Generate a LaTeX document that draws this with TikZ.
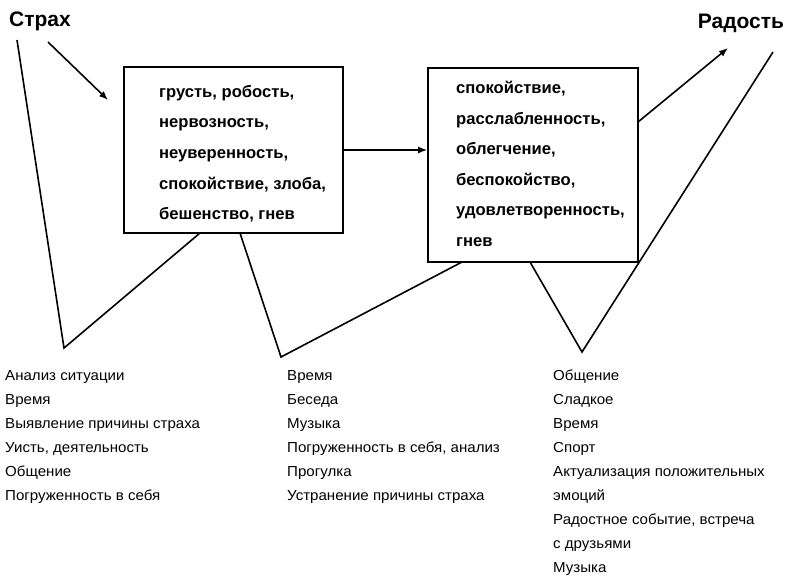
\documentclass[tikz,border=0pt]{standalone}
\usepackage{fontspec}
\setmainfont{Liberation Sans}
\newfontfamily\listfont[FakeStretch=1.04]{Liberation Sans}
\usetikzlibrary{arrows.meta}
\tikzset{
  ln/.style={line width=1.6pt, line join=miter},
  arr/.style={ln, -{Latex[length=9pt,width=7pt]}},
  emobox/.style={draw, line width=1.6pt, inner sep=0pt},
  boxtext/.style={anchor=north west, inner sep=0pt, align=left, font=\bfseries\fontsize{16.6}{30.6}\selectfont},
  listtext/.style={anchor=north west, inner sep=0pt, align=left, font=\listfont\fontsize{14.5}{24}\selectfont},
  title/.style={inner sep=0pt, font=\bfseries\fontsize{21}{24}\selectfont}
}
\begin{document}
\begin{tikzpicture}[x=1pt,y=-1pt]
\useasboundingbox (0,0) rectangle (787,584);
% titles
\node[title] (strakh) at (40,21) {Страх};
\node[title] (radost) at (741,23) {Радость};
% boxes
\node[emobox, minimum width=219pt, minimum height=166pt] (box1) at (233.5,150) {};
\node[emobox, minimum width=210pt, minimum height=194pt] (box2) at (533,165) {};
\node[boxtext] (t1) at (159,85) {грусть, робость,\\нервозность,\\неуверенность,\\спокойствие, злоба,\\бешенство, гнев};
\node[boxtext] (t2) at (456,81) {спокойствие,\\расслабленность,\\облегчение,\\беспокойство,\\удовлетворенность,\\гнев};
% coordinates
\coordinate (s1) at (48,42);
\coordinate (e1) at (108,100);
\coordinate (v1a) at (17,40);
\coordinate (v1b) at (64,348);
\coordinate (v1c) at (200,233);
\coordinate (v2a) at (240,233);
\coordinate (v2b) at (281,357);
\coordinate (v2c) at (462,262);
\coordinate (v3a) at (530,262);
\coordinate (v3b) at (582,352);
\coordinate (v3c) at (773,52);
\coordinate (s2) at (638,122);
\coordinate (e2) at (728,48);
% connectors
\draw[arr] (s1) -- (e1);
\draw[arr] (box1.east) -- (box1.east -| box2.west);
\draw[arr] (s2) -- (e2);
\draw[ln] (v1a) -- (v1b) -- (v1c);
\draw[ln] (v2a) -- (v2b) -- (v2c);
\draw[ln] (v3a) -- (v3b) -- (v3c);
% lists
\node[listtext] (l1) at (5,370) {Анализ ситуации\\Время\\Выявление причины страха\\Уисть, деятельность\\Общение\\Погруженность в себя};
\node[listtext] (l2) at (287,370) {Время\\Беседа\\Музыка\\Погруженность в себя, анализ\\Прогулка\\Устранение причины страха};
\node[listtext] (l3) at (553,370) {Общение\\Сладкое\\Время\\Спорт\\Актуализация положительных\\эмоций\\Радостное событие, встреча\\с друзьями\\Музыка};
\end{tikzpicture}
\end{document}
